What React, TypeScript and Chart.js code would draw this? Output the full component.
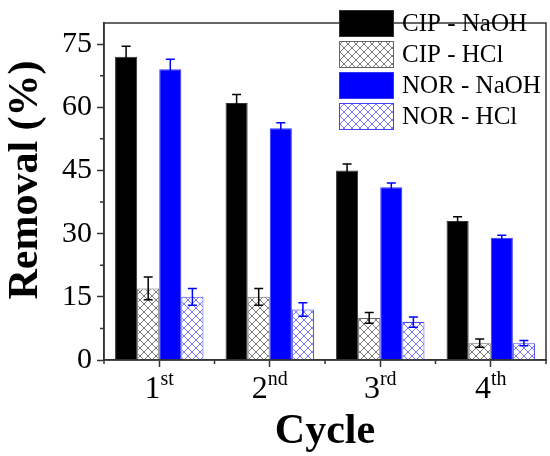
import { useEffect, useRef } from "react"
import { Chart, registerables } from "chart.js"

Chart.register(...registerables)

const cycles = ["1st", "2nd", "3rd", "4th"]
const yTicks = [0, 15, 30, 45, 60, 75]
const yMinorTicks = [7.5, 22.5, 37.5, 52.5, 67.5]

const cipNaoh = [72, 61, 45, 33]
const cipNaohErr = [2.5, 2, 1.5, 1]
const cipHcl = [17, 15, 10, 4]
const cipHclErr = [2.7, 2, 1.3, 1]
const norNaoh = [69, 55, 41, 29]
const norNaohErr = [2.4, 1.3, 1, 0.6]
const norHcl = [15, 12, 9, 4]
const norHclErr = [2, 1.6, 1.2, 0.6]

const xTitle = "Cycle"
const yTitle = "Removal (%)"

const serif = "'Liberation Serif', 'Times New Roman', serif"

function hatch(color: string) {
  const c = document.createElement("canvas")
  c.width = 8
  c.height = 8
  const g = c.getContext("2d")!
  g.fillStyle = "#fff"
  g.fillRect(0, 0, 8, 8)
  g.strokeStyle = color
  g.lineWidth = 0.8
  g.beginPath()
  g.moveTo(-1, -1)
  g.lineTo(9, 9)
  g.moveTo(9, -1)
  g.lineTo(-1, 9)
  g.stroke()
  return g.createPattern(c, "repeat")!
}

export default function App() {
  const canvasRef = useRef<HTMLCanvasElement>(null)

  useEffect(() => {
    if (!canvasRef.current) return
    const ctx = canvasRef.current.getContext("2d")
    if (!ctx) return

    const errors = [cipNaohErr, cipHclErr, norNaohErr, norHclErr]
    const errColors = ["#000", "#000", "#0000ff", "#0000ff"]

    // error bars, frame, minor ticks, x labels with superscripts, titles, legend
    const extras = {
      id: "extras",
      afterDatasetsDraw(chart: any) {
        const g = chart.ctx
        const y = chart.scales.y
        chart.data.datasets.forEach((ds: any, i: number) => {
          const meta = chart.getDatasetMeta(i)
          meta.data.forEach((bar: any, j: number) => {
            const v = ds.data[j]
            const e = errors[i][j]
            const top = y.getPixelForValue(v + e)
            const bot = y.getPixelForValue(v - e)
            g.save()
            g.strokeStyle = errColors[i]
            g.lineWidth = 1.5
            g.beginPath()
            g.moveTo(bar.x, top)
            g.lineTo(bar.x, bot)
            g.moveTo(bar.x - 4.5, top)
            g.lineTo(bar.x + 4.5, top)
            g.moveTo(bar.x - 4.5, bot)
            g.lineTo(bar.x + 4.5, bot)
            g.stroke()
            g.restore()
          })
        })
      },
      afterDraw(chart: any) {
        const g = chart.ctx
        const { left, right, top, bottom } = chart.chartArea
        const x = chart.scales.x
        const y = chart.scales.y
        g.save()
        g.strokeStyle = "#333"
        g.lineWidth = 1.5
        g.strokeRect(left, top, right - left, bottom - top)
        g.beginPath()
        yMinorTicks.forEach((v) => {
          const py = y.getPixelForValue(v)
          g.moveTo(left - 4, py)
          g.lineTo(left, py)
        })
        for (let i = 0; i <= cycles.length; i++) {
          const px = x.getPixelForValue(i - 0.5)
          g.moveTo(px, bottom)
          g.lineTo(px, bottom + 4)
        }
        g.stroke()

        g.fillStyle = "#000"
        g.textBaseline = "alphabetic"
        cycles.forEach((label, i) => {
          const num = label.replace(/\D/g, "")
          const sup = label.replace(/\d/g, "")
          g.font = `32px ${serif}`
          const wn = g.measureText(num).width
          g.font = `20px ${serif}`
          const ws = g.measureText(sup).width
          const x0 = x.getPixelForValue(i) - (wn + ws) / 2
          g.font = `32px ${serif}`
          g.textAlign = "left"
          g.fillText(num, x0, 398)
          g.font = `20px ${serif}`
          g.fillText(sup, x0 + wn, 385)
        })

        g.font = `bold 42px ${serif}`
        g.textAlign = "center"
        g.fillText(xTitle, (left + right) / 2, 443)
        g.save()
        g.translate(37, 180)
        g.rotate(-Math.PI / 2)
        g.fillText(yTitle, 0, 0)
        g.restore()

        g.font = `25px ${serif}`
        g.textAlign = "left"
        g.textBaseline = "middle"
        chart.data.datasets.forEach((ds: any, i: number) => {
          const ry = 10 + i * 31
          g.fillStyle = ds.backgroundColor
          g.fillRect(339, ry, 55, 27)
          g.strokeStyle = ds.borderColor
          g.lineWidth = 1
          g.strokeRect(339.5, ry + 0.5, 54, 26)
          g.fillStyle = "#000"
          g.fillText(ds.label, 402, ry + 14)
        })
        g.restore()
      },
    }

    const chart = new Chart(ctx, {
      type: "bar",
      data: {
        labels: cycles,
        datasets: [
          {
            label: "CIP - NaOH",
            data: cipNaoh,
            backgroundColor: "#000000",
            borderColor: "#333333",
            borderWidth: 1,
          },
          {
            label: "CIP - HCl",
            data: cipHcl,
            backgroundColor: hatch("#555555"),
            borderColor: "#666666",
            borderWidth: 1,
          },
          {
            label: "NOR - NaOH",
            data: norNaoh,
            backgroundColor: "#0000ff",
            borderColor: "#3333ff",
            borderWidth: 1,
          },
          {
            label: "NOR - HCl",
            data: norHcl,
            backgroundColor: hatch("#5555ff"),
            borderColor: "#4444ff",
            borderWidth: 1,
          },
        ],
      },
      options: {
        animation: false,
        responsive: true,
        maintainAspectRatio: false,
        layout: { padding: { top: 5, right: 4, left: 0, bottom: 0 } },
        datasets: { bar: { categoryPercentage: 0.8, barPercentage: 1 } },
        scales: {
          x: {
            afterFit: (s: any) => {
              s.height = 96
            },
            grid: {
              offset: false,
              drawOnChartArea: false,
              tickLength: 7,
              tickColor: "#333",
              tickWidth: 1.5,
            },
            border: { color: "#333", width: 1.5 },
            ticks: { display: false },
          },
          y: {
            min: 0,
            max: 80,
            afterFit: (s: any) => {
              s.width = 104
            },
            afterBuildTicks: (s: any) => {
              s.ticks = yTicks.map((v) => ({ value: v }))
            },
            grid: {
              drawOnChartArea: false,
              tickLength: 7,
              tickColor: "#333",
              tickWidth: 1.5,
            },
            border: { color: "#333", width: 1.5 },
            ticks: {
              color: "#000",
              padding: 5,
              font: { family: serif, size: 30 },
            },
          },
        },
        plugins: {
          legend: { display: false },
          tooltip: { enabled: false },
        },
      },
      plugins: [extras],
    })

    return () => {
      chart.destroy()
    }
  }, [])

  return (
    <div style={{ position: "absolute", left: 0, top: 0, width: 550, height: 456, background: "#fff" }}>
      <canvas ref={canvasRef}></canvas>
    </div>
  )
}
